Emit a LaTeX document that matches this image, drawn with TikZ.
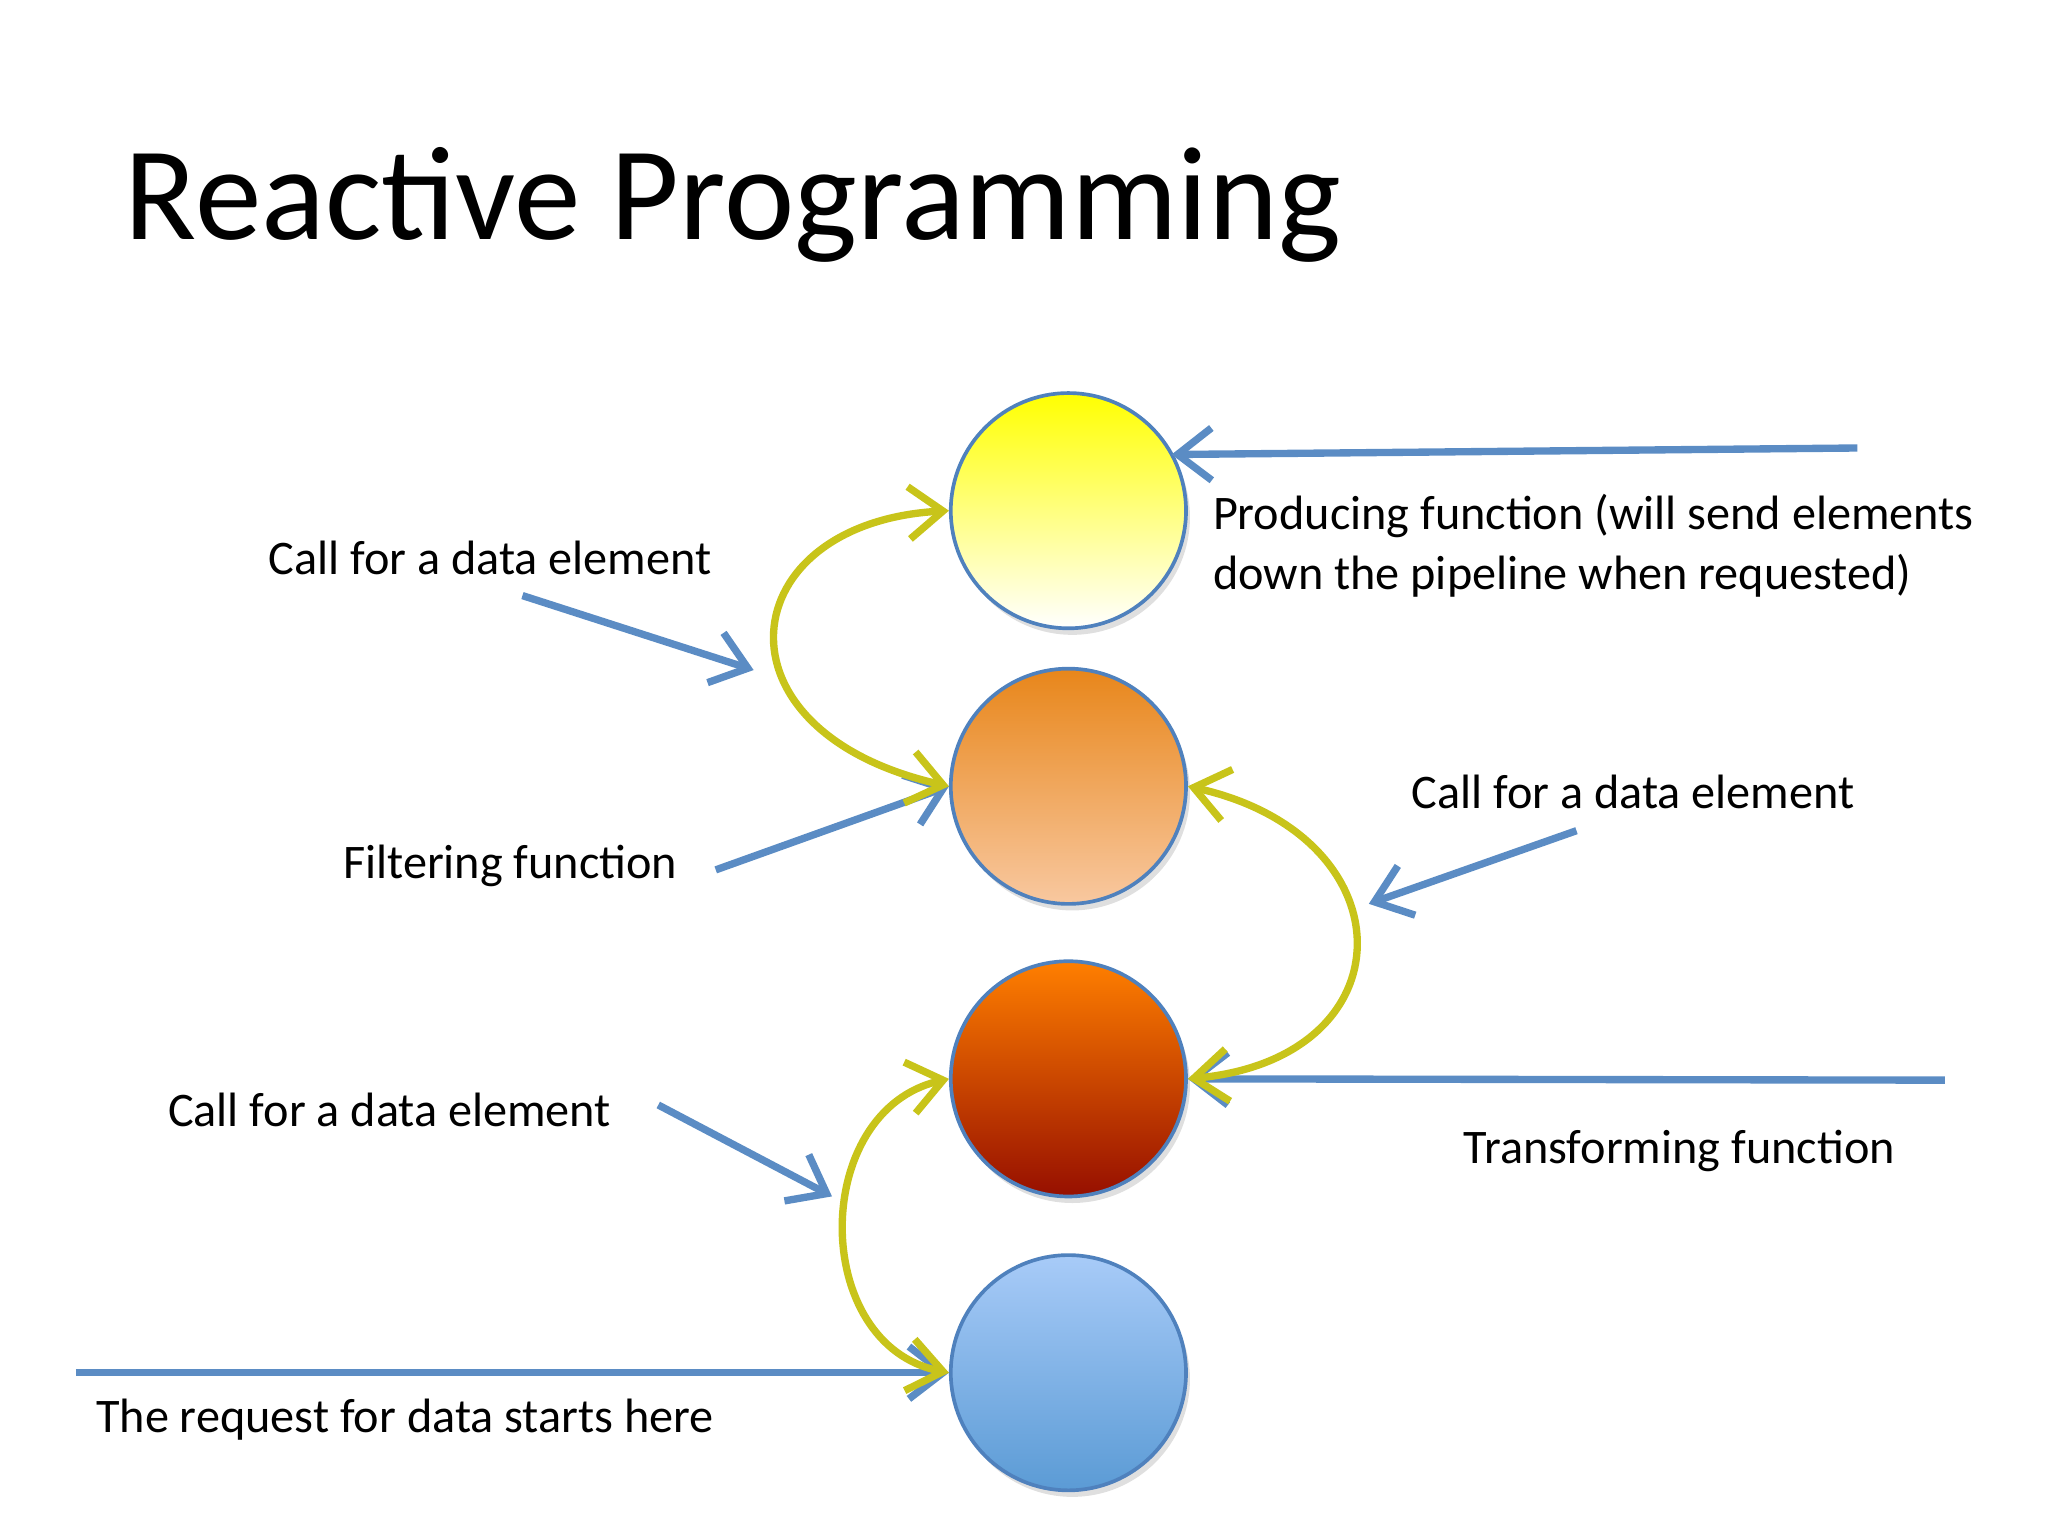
\documentclass[tikz,border=0pt]{standalone}
\usepackage{fontspec}
\setmainfont{Carlito}
\usetikzlibrary{arrows.meta,shadows}
\definecolor{bl}{HTML}{5B8CC4}
\definecolor{yl}{HTML}{C8C41A}
\definecolor{bd}{HTML}{4F81BD}
\definecolor{oaT}{HTML}{E8861A}
\definecolor{oaB}{HTML}{F8C8A0}
\definecolor{obT}{HTML}{FF7F00}
\definecolor{obB}{HTML}{960F00}
\definecolor{blT}{HTML}{A8CBF8}
\definecolor{blB}{HTML}{5B9BD5}
\tikzset{
 ball/.style={circle,inner sep=0pt,draw=bd,line width=0.8pt,minimum size=1.8cm,drop shadow={opacity=0.25,shadow xshift=0.03cm,shadow yshift=-0.05cm}},
 barrow/.style={draw=bl,line width=1.6pt,-{Straight Barb[length=2.6mm,width=4mm]}},
 yarrow/.style={draw=yl,line width=1.6pt,{Straight Barb[length=2.6mm,width=4mm]}-{Straight Barb[length=2.6mm,width=4mm]}},
 lbl/.style={anchor=west,font=\fontsize{10.5}{13}\selectfont,inner sep=0pt,align=left}
}
\begin{document}
\begin{tikzpicture}[x=0.01cm,y=-0.01cm]
\useasboundingbox (0,0) rectangle (1568,1176);
\node[anchor=west,inner sep=0pt,font=\fontsize{29}{34}\selectfont] (title) at (95,157) {Reactive Programming};
\node[ball,top color=yellow,bottom color=white] (c1) at (818,391) {};
\node[ball,top color=oaT,bottom color=oaB] (c2) at (818,602) {};
\node[ball,top color=obT,bottom color=obB] (c3) at (818,826) {};
\node[ball,top color=blT,bottom color=blB] (c4) at (818,1051) {};

\coordinate (p1) at (1422,343);
\coordinate (p1e) at (897,348);
\coordinate (p2) at (400,456);
\coordinate (p2e) at (577,513);
\coordinate (p3) at (548,666);
\coordinate (p4) at (1207,636);
\coordinate (p4e) at (1048,692);
\coordinate (p5) at (1489,827);
\coordinate (p6) at (504,846);
\coordinate (p6e) at (637,916);
\coordinate (p7) at (58,1051);

\draw[barrow] (p1) -- (p1e);
\draw[barrow] (p2) -- (p2e);
\draw[barrow] (p3) -- (c2.west);
\draw[barrow] (p4) -- (p4e);
\draw[barrow] (p5) -- (c3.east);
\draw[barrow] (p6) -- (p6e);
\draw[barrow] (p7) -- (c4.west);

\draw[yarrow] (c2.west) .. controls (540,560) and (560,400) .. (c1.west);
\draw[yarrow] (c2.east) .. controls (1080,640) and (1080,810) .. (c3.east);
\draw[yarrow] (c3.west) .. controls (620,850) and (620,1030) .. (c4.west);

\node[lbl] (l1) at (205,427) {Call for a data element};
\node[lbl] (l2) at (928,418) {Producing function (will send elements\\down the pipeline when requested)};
\node[lbl] (l3) at (262,663) {Filtering function};
\node[lbl] (l4) at (1080,606) {Call for a data element};
\node[lbl] (l5) at (128,850) {Call for a data element};
\node[lbl] (l6) at (1120,881) {Transforming function};
\node[lbl] (l7) at (73,1087) {The request for data starts here};
\end{tikzpicture}
\end{document}
